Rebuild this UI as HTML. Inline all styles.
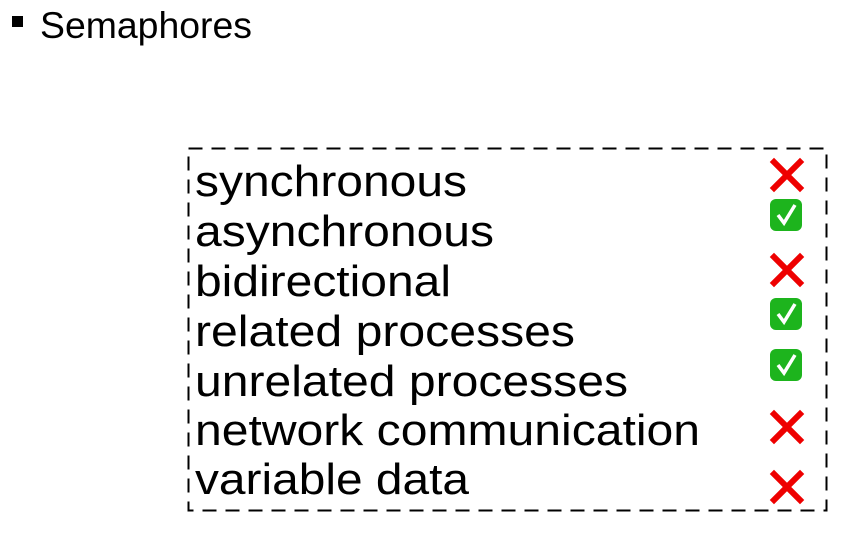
<!DOCTYPE html>
<html><head><meta charset="utf-8"><style>
html,body{margin:0;padding:0;background:#fff;width:860px;height:553px;overflow:hidden}
</style></head><body>
<svg width="860" height="553" viewBox="0 0 860 553" xmlns="http://www.w3.org/2000/svg">
<rect x="12" y="16" width="11" height="11" fill="#000"/>
<text x="40" y="38" font-family="Liberation Sans, sans-serif" font-size="37" textLength="212" lengthAdjust="spacingAndGlyphs">Semaphores</text>
<rect x="188.5" y="148.5" width="638" height="362" fill="none" stroke="#000" stroke-width="2" stroke-dasharray="14,9"/>
<g font-family="Liberation Sans, sans-serif" font-size="44" fill="#000">
<text x="195" y="196" textLength="272" lengthAdjust="spacingAndGlyphs">synchronous</text>
<text x="195" y="246" textLength="299" lengthAdjust="spacingAndGlyphs">asynchronous</text>
<text x="195" y="296" textLength="256" lengthAdjust="spacingAndGlyphs">bidirectional</text>
<text x="195" y="346" textLength="380" lengthAdjust="spacingAndGlyphs">related processes</text>
<text x="195" y="396" textLength="433" lengthAdjust="spacingAndGlyphs">unrelated processes</text>
<text x="195" y="445" textLength="505" lengthAdjust="spacingAndGlyphs">network communication</text>
<text x="195" y="494" textLength="274" lengthAdjust="spacingAndGlyphs">variable data</text>
</g>
<defs>
<g id="x"><path d="M-13,-13 L13,13 M13,-13 L-13,13" stroke="#e00" stroke-width="6" stroke-linecap="square"/></g>
<g id="c"><rect x="-16" y="-16" width="32" height="32" rx="6" fill="#1db41d"/><path d="M-8,0 L-2,8 L9,-10" fill="none" stroke="#fff" stroke-width="3.5"/></g>
</defs>
<use href="#x" x="787" y="175"/>
<use href="#c" x="786" y="215"/>
<use href="#x" x="787" y="270"/>
<use href="#c" x="786" y="314"/>
<use href="#c" x="786" y="365"/>
<use href="#x" x="787" y="427"/>
<use href="#x" x="787" y="487"/>
</svg>
</body></html>
